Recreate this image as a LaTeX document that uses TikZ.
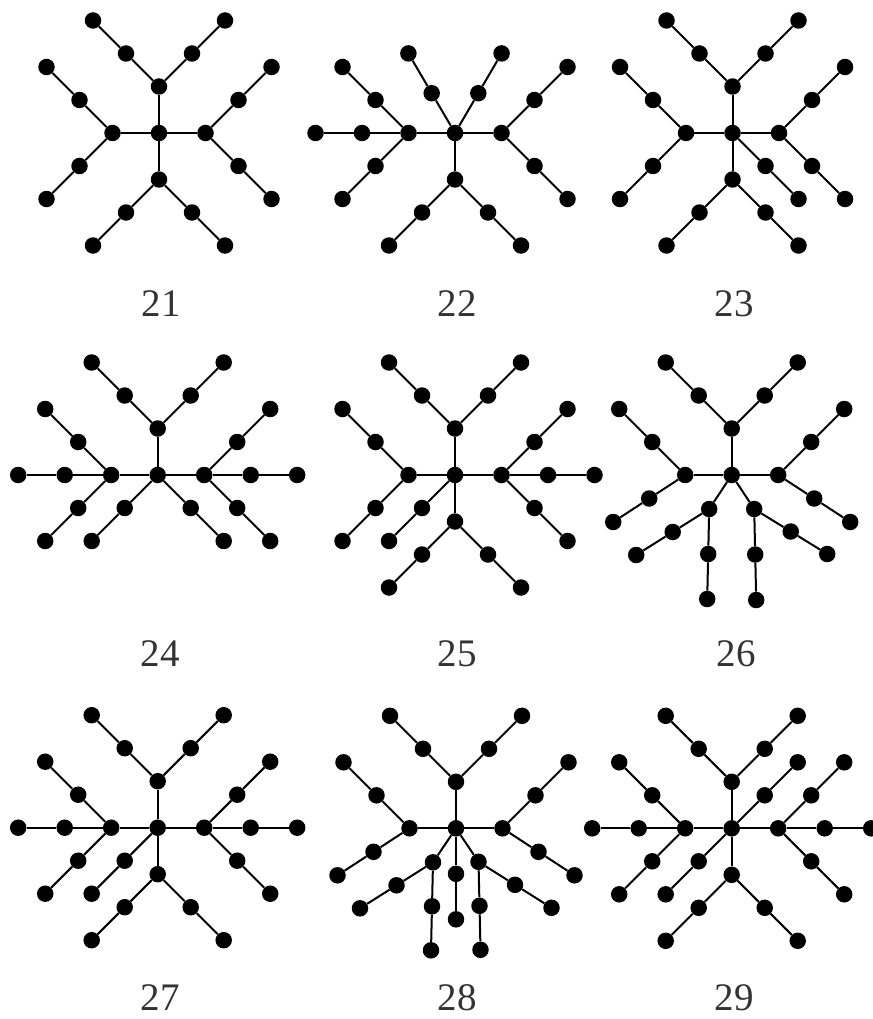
\documentclass[tikz,border=0pt]{standalone}
\usepackage{fontspec}
\setmainfont{Liberation Serif}
\usetikzlibrary{calc}
\tikzset{
  dot/.style={circle,fill=black,draw=none,inner sep=0pt,minimum size=16.5pt},
  edge/.style={line width=2pt},
  lbl/.style={inner sep=0pt,text=black!80,font=\fontsize{39}{39}\selectfont}
}
\newcommand\addnode[4]{\node[dot] (#2) at ($(#1)+(#3,#4)$) {}; \draw[edge] (#1) -- (#2);}
\newcommand\leg[4]{\addnode{#1}{#2a}{#3}{#4}\addnode{#2a}{#2b}{#3}{#4}}
\newcommand\armT[1]{\addnode{#1}{#1T}{0}{-46.5}\leg{#1T}{#1Tl}{-33}{-33}\leg{#1T}{#1Tr}{33}{-33}}
\newcommand\armL[1]{\addnode{#1}{#1L}{-46.5}{0}\leg{#1L}{#1Lu}{-33}{-33}\leg{#1L}{#1Ld}{-33}{33}}
\newcommand\armR[1]{\addnode{#1}{#1R}{46.5}{0}\leg{#1R}{#1Ru}{33}{-33}\leg{#1R}{#1Rd}{33}{33}}
\newcommand\armB[1]{\addnode{#1}{#1B}{0}{46.5}\leg{#1B}{#1Bl}{-33}{33}\leg{#1B}{#1Br}{33}{33}}
\begin{document}
\begin{tikzpicture}[x=1pt,y=-1pt]
\useasboundingbox (0,0) rectangle (872,1019);
% ---- 21
\node[dot] (a) at (159,133) {};
\armT{a}\armL{a}\armR{a}\armB{a}
\node[lbl] (lbl21) at (161,304) {21};
% ---- 22
\node[dot] (b) at (455,133) {};
\leg{b}{bU1}{-23.3}{-39.8}\leg{b}{bU2}{23.3}{-39.8}
\armL{b}\leg{bL}{bLh}{-46.5}{0}
\armR{b}\armB{b}
\node[lbl] (lbl22) at (457,304) {22};
% ---- 23
\node[dot] (c) at (732.5,133) {};
\armT{c}\armL{c}\armR{c}\armB{c}
\leg{c}{cD}{33}{33}
\node[lbl] (lbl23) at (734,304) {23};
% ---- 24
\node[dot] (d) at (157.7,475) {};
\armT{d}\armL{d}\armR{d}
\leg{dL}{dLh}{-46.5}{0}\leg{dR}{dRh}{46.5}{0}
\leg{d}{dD1}{-33}{33}\leg{d}{dD2}{33}{33}
\node[lbl] (lbl24) at (160,654) {24};
% ---- 25
\node[dot] (e) at (455,475) {};
\armT{e}\armL{e}\armR{e}\armB{e}
\leg{eR}{eRh}{46.5}{0}
\leg{e}{eD}{-33}{33}
\node[lbl] (lbl25) at (457,654) {25};
% ---- 26
\node[dot] (f) at (731.7,475) {};
\armT{f}
\addnode{f}{fL}{-46.5}{0}\leg{fL}{fL1}{-33}{-33}\leg{fL}{fL2}{-36}{23.5}
\addnode{f}{fR}{46.5}{0}\leg{fR}{fR1}{33}{-33}\leg{fR}{fR2}{36}{23.5}
\addnode{f}{fA}{-22.5}{34}\leg{fA}{fA1}{-1}{45}\leg{fA}{fA2}{-36.5}{23}
\addnode{f}{fB}{22.5}{34}\leg{fB}{fB1}{1}{45.5}\leg{fB}{fB2}{36.5}{22.5}
\node[lbl] (lbl26) at (736,654) {26};
% ---- 27
\node[dot] (g) at (157.7,827.7) {};
\armT{g}\armL{g}\armR{g}\armB{g}
\leg{gL}{gLh}{-46.5}{0}\leg{gR}{gRh}{46.5}{0}
\leg{g}{gD}{-33}{33}
\node[lbl] (lbl27) at (160,998) {27};
% ---- 28
\node[dot] (h) at (456,828.3) {};
\armT{h}
\addnode{h}{hL}{-46.5}{0}\leg{hL}{hL1}{-33}{-33}\leg{hL}{hL2}{-36}{23.5}
\addnode{h}{hR}{46.5}{0}\leg{hR}{hR1}{33}{-33}\leg{hR}{hR2}{36}{23.5}
\leg{h}{hD}{0}{45.5}
\addnode{h}{hA}{-23}{34}\leg{hA}{hA1}{-1}{44}\leg{hA}{hA2}{-36.5}{23}
\addnode{h}{hB}{22.5}{33.5}\leg{hB}{hB1}{1}{44}\leg{hB}{hB2}{36.5}{23}
\node[lbl] (lbl28) at (457,998) {28};
% ---- 29
\node[dot] (i) at (731.7,828.3) {};
\armT{i}\armL{i}\armR{i}\armB{i}
\leg{iL}{iLh}{-46.5}{0}\leg{iR}{iRh}{46.5}{0}
\leg{i}{iU}{33}{-33}\leg{i}{iD}{-33}{33}
\node[lbl] (lbl29) at (734,998) {29};
\end{tikzpicture}
\end{document}
